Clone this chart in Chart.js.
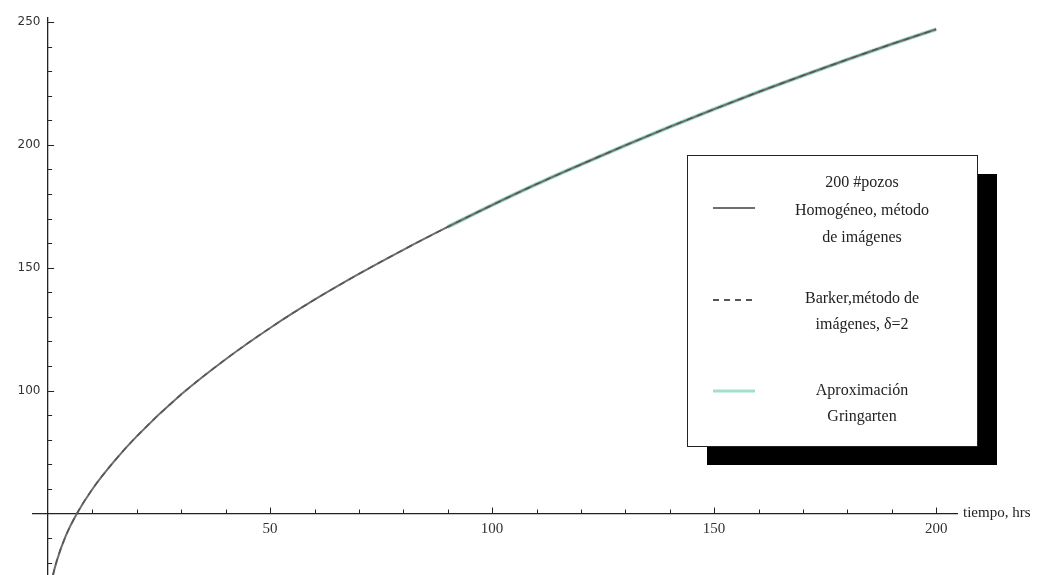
<!DOCTYPE html>
<html>
<head>
<meta charset="utf-8">
<script src="https://cdn.jsdelivr.net/npm/chart.js@4.4.0/dist/chart.umd.min.js"></script>
<style>
  body { margin: 0; background: #fff; }
  #wrap { width: 1055px; height: 575px; position: relative; }
</style>
</head>
<body>
<div id="wrap"><canvas id="chart"></canvas></div>
<script>
// time in hours
const tHours = [0.3, 1, 2, 4, 6.5, 10, 15, 20, 30, 40, 50, 60, 70, 80, 90, 100, 110, 120, 130, 140, 150, 160, 170, 180, 190, 200];
// Homogeneo, metodo de imagenes
const homogeneo = [16, 24, 31, 41, 50, 60, 71.5, 81.5, 98.5, 112.8, 125.5, 137, 147.5, 157.3, 166.6, 175.5, 184, 192, 199.8, 207.3, 214.5, 221.5, 228.2, 234.7, 241, 247];
// Barker, metodo de imagenes, delta = 2 (sits on top of the other curve)
const barker = [16, 24, 31, 41, 50, 60, 71.5, 81.5, 98.5, 112.8, 125.5, 137, 147.5, 157.3, 166.6, 175.5, 184, 192, 199.8, 207.3, 214.5, 221.5, 228.2, 234.7, 241, 247];
// Gringarten approximation, only drawn for late times
const tGringarten = [90, 100, 110, 120, 130, 140, 150, 160, 170, 180, 190, 200];
const gringarten = [166.6, 175.5, 184, 192, 199.8, 207.3, 214.5, 221.5, 228.2, 234.7, 241, 247];

const xTickLabels = [50, 100, 150, 200];
const yTickLabels = [100, 150, 200, 250];

const legendText = [
    ["200 #pozos", "Homogéneo, método", "de imágenes"],
    ["Barker,método de", "imágenes, δ=2"],
    ["Aproximación", "Gringarten"]
];

function toPoints(xs, ys) {
    return xs.map((x, i) => ({x: x, y: ys[i]}));
}

// axes sit inside the plot, so they must not eat any layout room
function noRoom(scale) {
    scale.width = scale.isHorizontal() ? scale.width : 0;
    scale.height = scale.isHorizontal() ? 0 : scale.height;
    scale.paddingTop = 0;
    scale.paddingBottom = 0;
    scale.paddingLeft = 0;
    scale.paddingRight = 0;
}

// small tick marks pointing into the plot, mathematica style
const axisTicks = {
    id: "axisTicks",
    afterDraw(chart) {
        const ctx = chart.ctx;
        const xs = chart.scales.x;
        const ys = chart.scales.y;
        const x0 = xs.getPixelForValue(0);
        const y0 = ys.getPixelForValue(50);
        ctx.save();
        ctx.strokeStyle = "#222";
        ctx.lineWidth = 1;
        ctx.beginPath();
        for (let v = 10; v <= 200; v += 10) {
            const px = Math.round(xs.getPixelForValue(v)) + 0.5;
            const len = v % 50 === 0 ? 6 : 4;
            ctx.moveTo(px, y0);
            ctx.lineTo(px, y0 - len);
        }
        for (let v = 30; v <= 250; v += 10) {
            if (v === 50) continue;
            const py = Math.round(ys.getPixelForValue(v)) + 0.5;
            const len = v % 50 === 0 ? 6 : 4;
            ctx.moveTo(x0, py);
            ctx.lineTo(x0 + len, py);
        }
        ctx.stroke();
        // axis name at the end of the x axis
        ctx.fillStyle = "#222";
        ctx.font = "15px 'Liberation Serif'";
        ctx.textBaseline = "middle";
        ctx.textAlign = "left";
        ctx.fillText("tiempo, hrs", chart.chartArea.right + 6, y0);
        ctx.restore();
    }
};

// framed legend with a drop shadow
const boxLegend = {
    id: "boxLegend",
    afterDraw(chart) {
        const ctx = chart.ctx;
        const left = 687, top = 155, w = 290, h = 291;
        ctx.save();
        ctx.fillStyle = "#000";
        ctx.fillRect(left + 20, top + 19, w, h);
        ctx.fillStyle = "#fff";
        ctx.fillRect(left, top, w, h);
        ctx.strokeStyle = "#222";
        ctx.lineWidth = 1;
        ctx.strokeRect(left + 0.5, top + 0.5, w, h);

        const rows = [
            {ds: 0, sym: 208, lines: [183, 211, 238]},
            {ds: 1, sym: 300, lines: [299, 325]},
            {ds: 2, sym: 391, lines: [391, 417]}
        ];
        ctx.font = "16px 'Liberation Serif'";
        ctx.textAlign = "center";
        ctx.textBaseline = "middle";
        rows.forEach((r) => {
            const ds = chart.data.datasets[r.ds];
            ctx.beginPath();
            ctx.strokeStyle = ds.borderColor;
            ctx.lineWidth = r.ds === 2 ? 3 : 2;
            ctx.setLineDash(ds.borderDash || []);
            ctx.moveTo(713, r.sym);
            ctx.lineTo(755, r.sym);
            ctx.stroke();
            ctx.setLineDash([]);
            ctx.fillStyle = "#222";
            legendText[r.ds].forEach((txt, i) => {
                ctx.fillText(txt, 862, r.lines[i]);
            });
        });
        ctx.restore();
    }
};

const ctx = document.getElementById("chart").getContext("2d");
const chart = new Chart(ctx, {
    type: "scatter",
    data: {
        datasets: [{
            label: legendText[0].join(" "),
            data: toPoints(tHours, homogeneo),
            showLine: true,
            borderColor: "#6e6e6e",
            borderWidth: 2,
            pointRadius: 0,
            cubicInterpolationMode: "monotone",
            order: 2
        },
        {
            label: legendText[1].join(" "),
            data: toPoints(tHours, barker),
            showLine: true,
            borderColor: "#555",
            borderDash: [6, 5],
            borderWidth: 1.5,
            pointRadius: 0,
            cubicInterpolationMode: "monotone",
            order: 1
        },
        {
            label: legendText[2].join(" "),
            data: toPoints(tGringarten, gringarten),
            showLine: true,
            borderColor: "rgba(140, 215, 195, 0.8)",
            borderWidth: 4,
            pointRadius: 0,
            cubicInterpolationMode: "monotone",
            order: 3
        }]
    },
    options: {
        responsive: true,
        maintainAspectRatio: false,
        animation: false,
        layout: {
            padding: {left: 33, right: 98, top: 18, bottom: 0}
        },
        plugins: {
            legend: { display: false },
            tooltip: { enabled: false }
        },
        scales: {
            x: {
                type: "linear",
                min: -3.4,
                max: 204.7,
                position: {y: 50},
                afterBuildTicks: (scale) => { scale.ticks = xTickLabels.map(v => ({value: v})); },
                afterFit: noRoom,
                grid: { display: false, drawTicks: false },
                border: { display: true, color: "#222", width: 1.3 },
                ticks: {
                    color: "#333",
                    padding: 7,
                    maxRotation: 0,
                    font: { family: "'Liberation Serif'", size: 15 }
                }
            },
            y: {
                type: "linear",
                min: 25,
                max: 251.6,
                position: {x: 0},
                afterBuildTicks: (scale) => { scale.ticks = yTickLabels.map(v => ({value: v})); },
                afterFit: noRoom,
                grid: { display: false, drawTicks: false },
                border: { display: true, color: "#222", width: 1.3 },
                ticks: {
                    color: "#333",
                    // labels hug the axis when it sits inside the plot, so pad them with spaces
                    callback: (v) => v + "  ",
                    font: { family: "'DejaVu Sans'", size: 12 }
                }
            }
        }
    },
    plugins: [axisTicks, boxLegend]
});
</script>
</body>
</html>
